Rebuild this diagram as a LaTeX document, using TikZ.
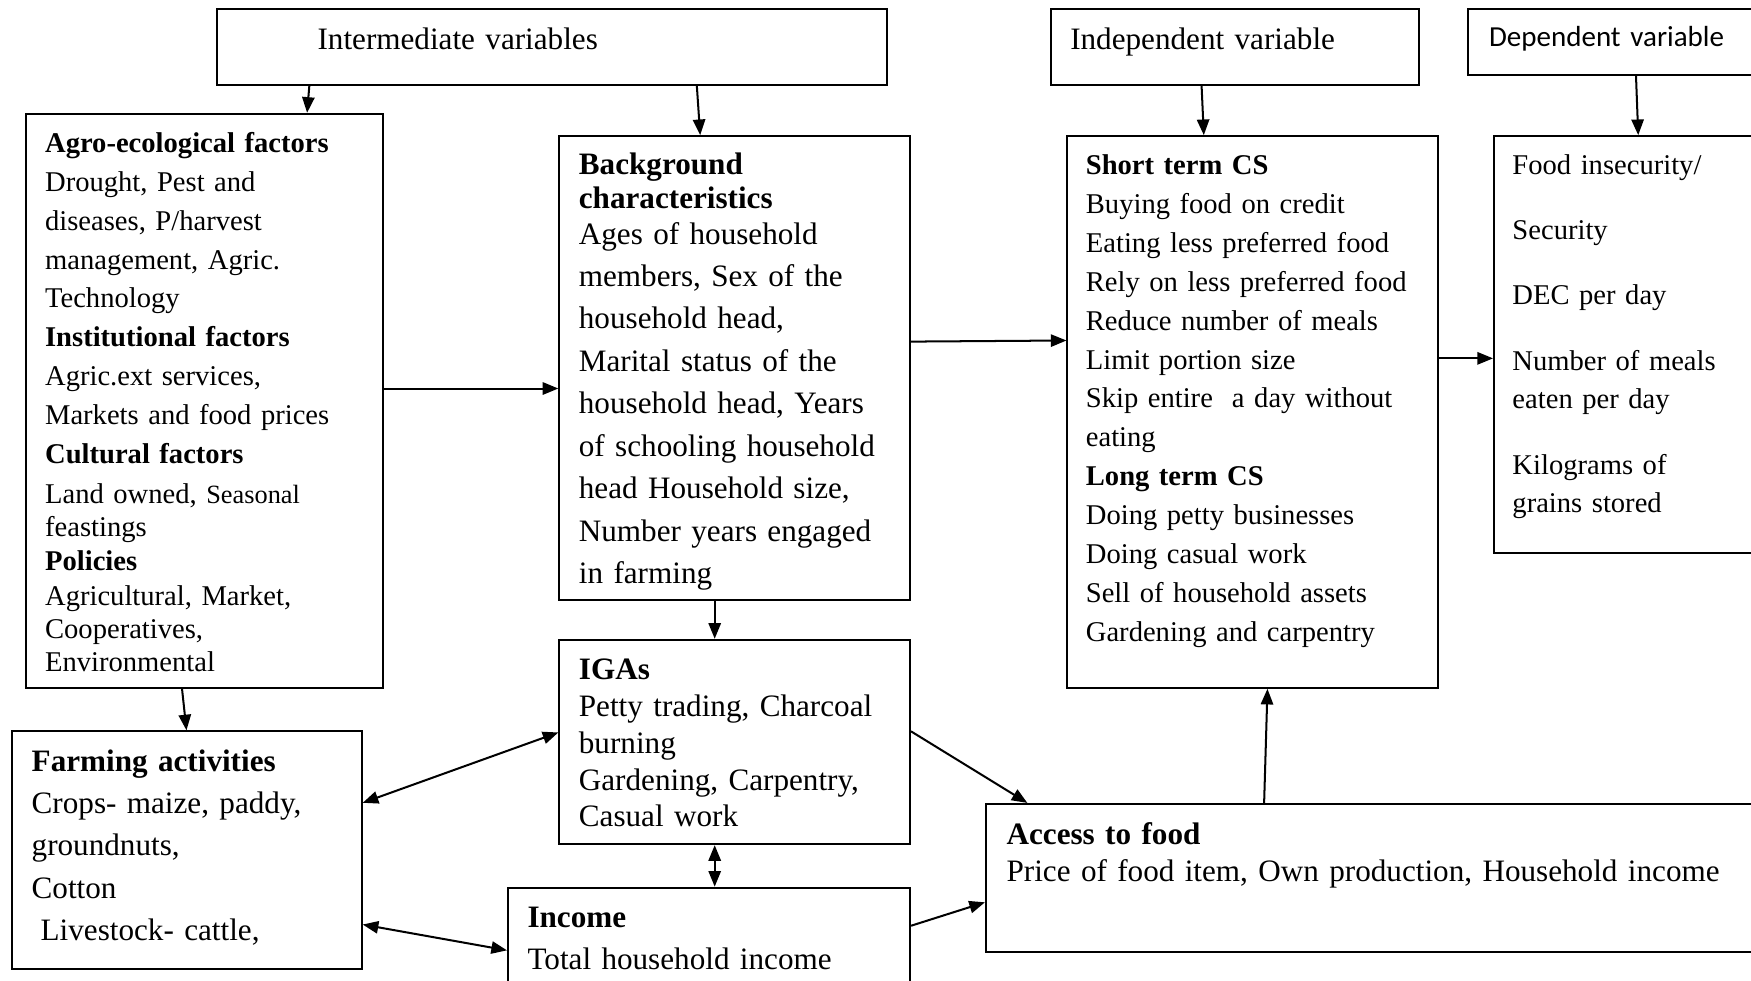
\documentclass[tikz,border=0pt]{standalone}
\usepackage{fontspec}
\setmainfont{Liberation Serif}
\newfontfamily\calibrifont{Carlito}
\usetikzlibrary{arrows.meta,positioning}

\begin{document}
\begin{tikzpicture}[x=0.5pt,y=-0.5pt,>={Triangle[length=7pt,width=5.5pt]},
  box/.style={draw,line width=0.9pt,inner sep=0pt,anchor=north west},
  txt/.style={inner sep=0pt,anchor=base west,text width=#1,align=left},
  big/.style={font=\fontsize{13.95}{19}\selectfont},
  small/.style={font=\fontsize{12.8}{17.4}\selectfont},
  link/.style={->,line width=0.9pt},
  twoway/.style={<->,line width=0.9pt}]
  \useasboundingbox (0,0) rectangle (1568,878);

  % boxes
  \node[box,minimum width=300pt,minimum height=34pt]    (inter)  at (193,7)   {};
  \node[box,minimum width=165pt,minimum height=34pt]    (indep)  at (940,7)   {};
  \node[box,minimum width=138pt,minimum height=29.5pt]  (dep)    at (1314,7)  {};
  \node[box,minimum width=160pt,minimum height=257pt]   (agro)   at (22,101)  {};
  \node[box,minimum width=157pt,minimum height=207.5pt] (bg)     at (500,121) {};
  \node[box,minimum width=166pt,minimum height=247pt]   (short)  at (955,121) {};
  \node[box,minimum width=127pt,minimum height=186.5pt] (depbox) at (1337,121) {};
  \node[box,minimum width=156.5pt,minimum height=106.5pt] (farm) at (10,654)  {};
  \node[box,minimum width=157pt,minimum height=91.5pt]  (iga)    at (500,572) {};
  \node[box,minimum width=180pt,minimum height=55pt]    (income) at (454,794) {};
  \node[box,minimum width=354pt,minimum height=66.5pt]  (access) at (882,719) {};

  % texts
  \node[txt=250pt,big] (intertxt) at ([xshift=45.5pt,yshift=-18.75pt]inter.north west) {Intermediate variables};
  \node[txt=150pt,big] (indeptxt) at ([xshift=9pt,yshift=-18.75pt]indep.north west) {Independent variable};
  \node[txt=130pt,font=\calibrifont\fontsize{13}{16}\selectfont] (deptxt) at ([xshift=9.5pt,yshift=-17.5pt]dep.north west) {Dependent variable};

  \node[txt=150pt,small] (agrotxt) at ([xshift=9pt,yshift=-17.75pt]agro.north west) {%
    \textbf{Agro-ecological factors}\\
    Drought, Pest and\\
    diseases, P/harvest\\
    management, Agric.\\
    Technology\\
    \textbf{Institutional factors}\\
    Agric.ext services,\\
    Markets and food prices\\
    \textbf{Cultural factors}\\[0.5pt]
    Land owned, {\fontsize{11.8}{17}\selectfont Seasonal}\\[-2.5pt]
    feastings\\[-2pt]
    \textbf{Policies}\\[-2pt]
    Agricultural, Market,\\[-2.5pt]
    Cooperatives,\\[-2.5pt]
    Environmental};

  \node[txt=150pt,big] (bgtxt) at ([xshift=9pt,yshift=-17.75pt]bg.north west) {%
    \textbf{Background}\\[-4pt]
    \textbf{characteristics}\\[-3pt]
    Ages of household\\
    members, Sex of the\\
    household head,\\
    Marital status of the\\
    household head, Years\\
    of schooling household\\
    head Household size,\\
    Number years engaged\\
    in farming};

  \node[txt=160pt,small] (shorttxt) at ([xshift=8.5pt,yshift=-17.75pt]short.north west) {%
    \textbf{Short term CS}\\
    Buying food on credit\\
    Eating less preferred food\\
    Rely on less preferred food\\
    Reduce number of meals\\
    Limit portion size\\
    Skip entire\ \ a day without\\
    eating\\
    \textbf{Long term CS}\\
    Doing petty businesses\\
    Doing casual work\\
    Sell of household assets\\
    Gardening and carpentry};

  \node[txt=120pt,small] (deptext) at ([xshift=8.5pt,yshift=-17.75pt]depbox.north west) {%
    Food insecurity/\\[11.75pt]
    Security\\[11.75pt]
    DEC per day\\[11.75pt]
    Number of meals\\
    eaten per day\\[11.75pt]
    Kilograms of\\
    grains stored};

  \node[txt=150pt,big] (farmtxt) at ([xshift=9pt,yshift=-18.25pt]farm.north west) {%
    \textbf{Farming activities}\\
    Crops- maize, paddy,\\
    groundnuts,\\
    Cotton\\
    \hspace*{4pt}Livestock- cattle,};

  \node[txt=150pt,font=\fontsize{13.95}{16.5}\selectfont] (igatxt) at ([xshift=9pt,yshift=-18.25pt]iga.north west) {%
    \textbf{IGAs}\\
    Petty trading, Charcoal\\
    burning\\
    Gardening, Carpentry,\\
    Casual work};

  \node[txt=170pt,big] (incometxt) at ([xshift=9pt,yshift=-18.25pt]income.north west) {%
    \textbf{Income}\\
    Total household income};

  \node[txt=340pt,font=\fontsize{13.95}{16.5}\selectfont] (accesstxt) at ([xshift=9.5pt,yshift=-18.75pt]access.north west) {%
    \textbf{Access to food}\\
    Price of food item, Own production, Household income};

  % connectors
  \draw[link] ([xshift=42pt]inter.south west) -- ([xshift=126.5pt]agro.north west);
  \draw[link] ([xshift=215.5pt]inter.south west) -- ([xshift=63.5pt]bg.north west);
  \draw[link] ([xshift=68pt]indep.south west) -- ([xshift=61.5pt]short.north west);
  \draw[link] ([xshift=75.5pt]dep.south west) -- ([xshift=65pt]depbox.north west);
  \draw[link] ([yshift=5.5pt]agro.east) -- ([yshift=-9.25pt]bg.west);
  \draw[link] ([yshift=11.75pt]bg.east) -- ([yshift=32pt]short.west);
  \draw[link] ([yshift=24pt]short.east) -- ([yshift=-6.25pt]depbox.west);
  \draw[link] ([xshift=70.5pt]agro.south west) -- ([xshift=78.5pt]farm.north west);
  \draw[link] ([xshift=70pt]bg.south west) -- ([xshift=70pt]iga.north west);
  \draw[twoway] ([yshift=21.25pt]farm.east) -- ([yshift=4.25pt]iga.west);
  \draw[twoway] ([xshift=70pt]iga.south west) -- ([xshift=93pt]income.north west);
  \draw[twoway] ([yshift=-33.25pt]farm.east) -- ([yshift=-28.5pt]income.north west);
  \draw[link] ([yshift=4.75pt]iga.east) -- ([xshift=19pt]access.north west);
  \draw[link] ([yshift=-17.5pt]income.north east) -- ([yshift=-44.5pt]access.north west);
  \draw[link] ([xshift=125pt]access.north west) -- ([xshift=90pt]short.south west);
\end{tikzpicture}
\end{document}
